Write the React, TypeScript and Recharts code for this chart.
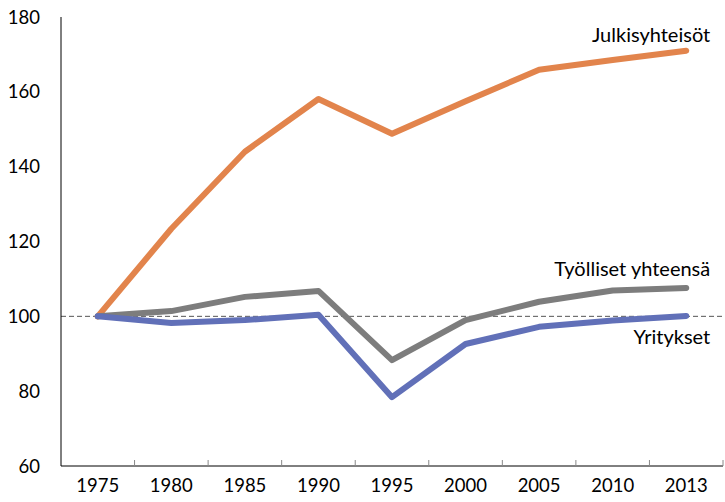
import { LineChart, Line, XAxis, YAxis, ReferenceLine, LabelList } from 'recharts'

const years = ['1975', '1980', '1985', '1990', '1995', '2000', '2005', '2010', '2013']
const julkisyhteisot = [100, 123.4, 144, 158.1, 148.8, 157.5, 165.9, 168.5, 171]
const tyolliset = [100, 101.4, 105.2, 106.8, 88.3, 99, 103.9, 106.9, 107.6]
const yritykset = [100, 98.2, 99, 100.4, 78.4, 92.6, 97.2, 98.9, 100.1]
const yTicks = [60, 80, 100, 120, 140, 160, 180]

const data = years.map((y, i) => ({
  i,
  year: y,
  julk: julkisyhteisot[i],
  tyol: tyolliset[i],
  yrit: yritykset[i],
}))

const FONT = 'Lato, "Liberation Sans", sans-serif'

// name label next to the last point of a series
const endLabel = (text: string, dy: number) => (props: any) => {
  const { x, y, index } = props
  if (index !== years.length - 1) return null
  return (
    <text x={x + 24} y={y + dy} textAnchor="end" fontSize={20} fontFamily={FONT} fill="#000">
      {text}
    </text>
  )
}

export default function App() {
  const boundaries = years.map((_, i) => i + 0.5)
  return (
    <div style={{ position: 'absolute', left: 0, top: 0, width: 725, height: 502, background: '#fff' }}>
      <LineChart width={725} height={502} data={data} margin={{ top: 17, right: 2, left: 0, bottom: 0 }}>
        <XAxis
          dataKey="i"
          type="number"
          domain={[-0.5, years.length - 0.5]}
          ticks={years.map((_, i) => i)}
          tickFormatter={(v: number) => years[v]}
          height={36}
          tickLine={false}
          tickSize={0}
          tickMargin={13}
          axisLine={{ stroke: '#000', strokeWidth: 1 }}
          tick={{ fontSize: 18.5, fill: '#000', fontFamily: FONT }}
          interval={0}
        />
        <XAxis
          xAxisId="marks"
          dataKey="i"
          type="number"
          domain={[-0.5, years.length - 0.5]}
          ticks={boundaries}
          tickFormatter={() => ''}
          mirror
          tickSize={6}
          axisLine={false}
          tickLine={{ stroke: '#888' }}
          interval={0}
        />
        <YAxis
          domain={[60, 180]}
          ticks={yTicks}
          width={61}
          tickLine={false}
          tickSize={0}
          tickMargin={21}
          axisLine={{ stroke: '#000', strokeWidth: 1 }}
          tick={{ fontSize: 18.5, fill: '#000', fontFamily: FONT }}
          interval={0}
        />
        <YAxis
          yAxisId="marks"
          domain={[60, 180]}
          ticks={yTicks}
          mirror
          tickSize={5}
          tickFormatter={() => ''}
          axisLine={false}
          tickLine={{ stroke: '#888' }}
          interval={0}
        />
        <ReferenceLine y={100} stroke="#555" strokeDasharray="5 3" strokeWidth={1} />
        <Line
          dataKey="julk"
          stroke="#E2844C"
          strokeWidth={6}
          strokeLinecap="round"
          strokeLinejoin="round"
          dot={false}
          isAnimationActive={false}
        >
          <LabelList dataKey="julk" content={endLabel('Julkisyhteisöt', -9)} />
        </Line>
        <Line
          dataKey="tyol"
          stroke="#7D7D7D"
          strokeWidth={6}
          strokeLinecap="round"
          strokeLinejoin="round"
          dot={false}
          isAnimationActive={false}
        >
          <LabelList dataKey="tyol" content={endLabel('Työlliset yhteensä', -12)} />
        </Line>
        <Line
          dataKey="yrit"
          stroke="#6170B8"
          strokeWidth={6}
          strokeLinecap="round"
          strokeLinejoin="round"
          dot={false}
          isAnimationActive={false}
        >
          <LabelList dataKey="yrit" content={endLabel('Yritykset', 28)} />
        </Line>
      </LineChart>
    </div>
  )
}
